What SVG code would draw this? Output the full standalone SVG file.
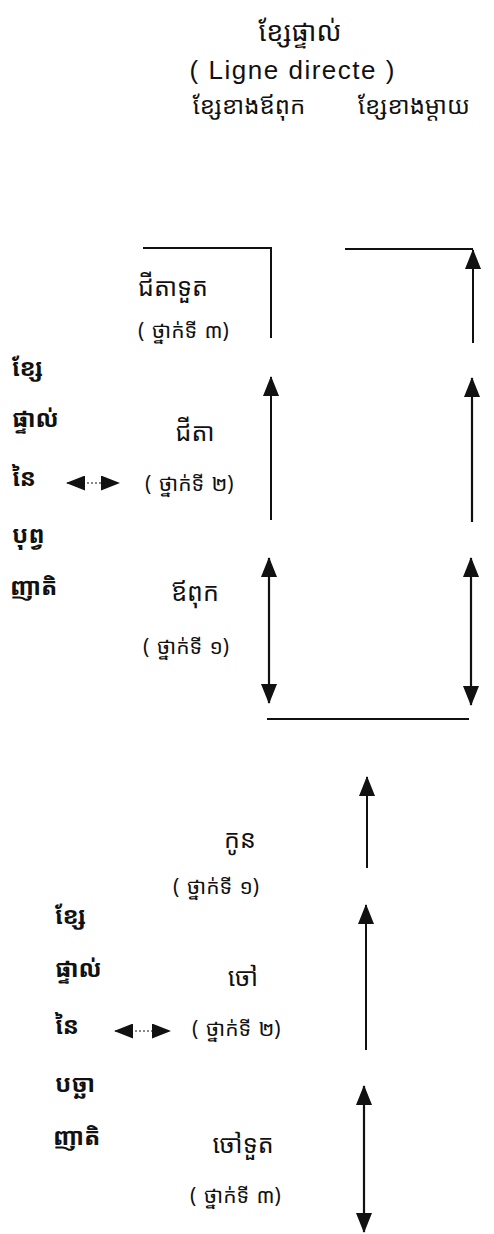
<svg xmlns="http://www.w3.org/2000/svg" width="494" height="1234" viewBox="0 0 494 1234">
<defs>
<style>
.t{font-family:"Noto Sans Khmer","Noto Serif Khmer","Khmer OS","Khmer OS System","Hanuman","Noto Sans",sans-serif;fill:#111;}
.ti{font-size:27px;}
.h{font-size:24px;}
.m{font-size:25px;}
.s{font-size:21px;word-spacing:2px;}
.b{font-size:24px;font-weight:bold;}
.lat{font-family:"Liberation Sans",Arial,sans-serif;font-size:26px;fill:#111;}
.ln{stroke:#111;stroke-width:2;fill:none;}
.hl{stroke:#111;stroke-width:2.2;fill:none;}
.ds{stroke:#111;stroke-width:1;stroke-dasharray:2 2;fill:none;}
</style>
<marker id="ah" viewBox="0 0 20 16" refX="19" refY="8" markerWidth="20" markerHeight="16" markerUnits="userSpaceOnUse" orient="auto-start-reverse">
<path d="M0,0 L20,8 L0,16 Z" fill="#111"/>
</marker>
<marker id="sa" viewBox="0 0 19 15" refX="18" refY="7.5" markerWidth="19" markerHeight="15" markerUnits="userSpaceOnUse" orient="auto-start-reverse">
<path d="M0,0 L19,7.5 L0,15 Z" fill="#111"/>
</marker>
</defs>
<rect width="494" height="1234" fill="#fff"/>

<g id="title">
<text class="t ti" x="300" y="41" text-anchor="middle">ខ្សែផ្ទាល់</text>
<text class="lat" x="292" y="79" text-anchor="middle" textLength="205">( Ligne directe )</text>
<text class="t h" x="249" y="114" text-anchor="middle">ខ្សែខាងឪពុក</text>
<text class="t h" x="414" y="114" text-anchor="middle">ខ្សែខាងម្ដាយ</text>
</g>

<g id="ancestors-label">
<text class="t b" x="12" y="376">ខ្សែ</text>
<text class="t b" x="12" y="427">ផ្ទាល់</text>
<text class="t b" x="12" y="486">នៃ</text>
<text class="t b" x="12" y="543">បុព្វ</text>
<text class="t b" x="10" y="595">ញាតិ</text>
</g>

<g id="descendants-label">
<text class="t b" x="55" y="924">ខ្សែ</text>
<text class="t b" x="55" y="977">ផ្ទាល់</text>
<text class="t b" x="55" y="1034">នៃ</text>
<text class="t b" x="55" y="1092">បច្ឆា</text>
<text class="t b" x="53" y="1145">ញាតិ</text>
</g>

<g id="great-grandfather">
<text class="t m" x="138" y="296">ជីតាទួត</text>
<text class="t s" x="138" y="338">( ថ្នាក់ទី ៣)</text>
</g>
<g id="grandfather">
<text class="t m" x="195" y="441" text-anchor="middle">ជីតា</text>
<text class="t s" x="145" y="491">( ថ្នាក់ទី ២)</text>
</g>
<g id="father">
<text class="t m" x="195" y="601" text-anchor="middle">ឪពុក</text>
<text class="t s" x="143" y="654">( ថ្នាក់ទី ១)</text>
</g>
<g id="child">
<text class="t m" x="240" y="848" text-anchor="middle">កូន</text>
<text class="t s" x="173" y="894">( ថ្នាក់ទី ១)</text>
</g>
<g id="grandchild">
<text class="t m" x="243" y="986" text-anchor="middle">ចៅ</text>
<text class="t s" x="192" y="1036">( ថ្នាក់ទី ២)</text>
</g>
<g id="great-grandchild">
<text class="t m" x="243" y="1153" text-anchor="middle">ចៅទួត</text>
<text class="t s" x="190" y="1203">( ថ្នាក់ទី ៣)</text>
</g>

<g id="connectors">
<polyline class="ln" points="143,248 271,248 271,338"/>
<line class="ln" x1="271" y1="520" x2="271" y2="377" marker-end="url(#ah)"/>
<line class="hl" x1="269" y1="558" x2="269" y2="703" marker-start="url(#ah)" marker-end="url(#ah)"/>
<line class="ln" x1="345" y1="249" x2="473" y2="249"/>
<line class="ln" x1="473" y1="343" x2="473" y2="250" marker-end="url(#ah)"/>
<line class="hl" x1="472" y1="522" x2="472" y2="378" marker-end="url(#ah)"/>
<line class="hl" x1="471" y1="558" x2="471" y2="705" marker-start="url(#ah)" marker-end="url(#ah)"/>
<line class="hl" x1="267" y1="719" x2="469" y2="719"/>
<line class="ln" x1="367" y1="868" x2="367" y2="777" marker-end="url(#ah)"/>
<line class="ln" x1="366" y1="1050" x2="366" y2="905" marker-end="url(#ah)"/>
<line class="hl" x1="364" y1="1086" x2="364" y2="1232" marker-start="url(#ah)" marker-end="url(#ah)"/>
<line class="ds" x1="67" y1="483" x2="119" y2="483" marker-start="url(#sa)" marker-end="url(#sa)"/>
<line class="ds" x1="115" y1="1031" x2="170" y2="1031" marker-start="url(#sa)" marker-end="url(#sa)"/>
</g>
</svg>
